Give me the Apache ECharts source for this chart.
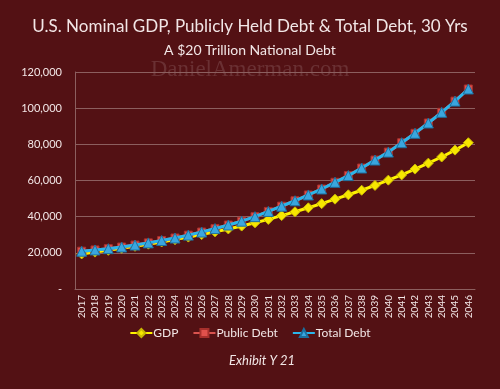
<!DOCTYPE html>
<html>
<head>
<meta charset="utf-8">
<script src="https://cdn.jsdelivr.net/npm/echarts@6/dist/echarts.min.js"></script>
<style>
html,body{margin:0;padding:0;background:#531114;}
#chart{width:500px;height:389px;}
</style>
</head>
<body>
<div id="chart"></div>
<script>
var years = ['2017','2018','2019','2020','2021','2022','2023','2024','2025','2026','2027','2028','2029','2030','2031','2032','2033','2034','2035','2036','2037','2038','2039','2040','2041','2042','2043','2044','2045','2046'];
var gdp = [19400,20400,21400,22500,23600,24800,26000,27300,28700,30100,31600,33200,34800,36600,38500,40600,42700,44900,47200,49700,52100,54600,57300,60200,63100,66300,69600,73000,76800,80900];
var publicDebt = [20900,21600,22300,23200,24300,25500,26800,28200,29800,31500,33400,35400,37500,40000,42900,45800,48800,52000,55300,59000,62700,66900,71300,75700,80900,86100,91800,97700,103900,110600];
var totalDebt = [20900,21600,22300,23200,24300,25500,26800,28200,29800,31500,33400,35400,37500,40000,42900,45800,48800,52000,55300,59000,62700,66900,71300,75700,80900,86100,91800,97700,103900,110600];
var yTicks = { min: 0, max: 120000, interval: 20000 };

var chart = echarts.init(document.getElementById('chart'));
var txt = '#f2e6e6';
var gridCol = '#8c5f5f';
chart.setOption({
  backgroundColor: '#531114',
  animation: false,
  textStyle: { fontFamily: 'Lato' },
  graphic: [
    { type: 'text', left: 'center', top: 18, style: { text: 'U.S. Nominal GDP, Publicly Held Debt & Total Debt, 30 Yrs', fill: txt, font: '17px Lato' } },
    { type: 'text', left: 'center', top: 43, style: { text: 'A $20 Trillion National Debt', fill: txt, font: '14px Lato' } },
    { type: 'text', left: 'center', top: 58, z: 0, style: { text: 'DanielAmerman.com', fill: '#6a3033', font: '23px "Liberation Serif"' } },
    { type: 'text', left: 229, top: 354, style: { text: 'Exhibit Y 21', fill: txt, font: 'italic 13px Lato' } }
  ],
  legend: {
    bottom: 45,
    left: 'center',
    itemWidth: 22,
    itemHeight: 10,
    itemGap: 14,
    textStyle: { color: txt, fontSize: 12, fontFamily: 'Lato', padding: [0,0,0,-4] },
    data: ['GDP', 'Public Debt', 'Total Debt']
  },
  grid: { left: 75, right: 25, top: 72, bottom: 100, containLabel: false },
  xAxis: {
    type: 'category',
    data: years,
    boundaryGap: true,
    axisLine: { show: true, lineStyle: { color: gridCol, width: 1 } },
    axisTick: { show: false },
    axisLabel: { rotate: 90, color: txt, fontSize: 10, interval: 0, margin: 6, fontFamily: 'Lato' },
    splitLine: { show: false }
  },
  yAxis: {
    type: 'value',
    min: yTicks.min,
    max: yTicks.max,
    interval: yTicks.interval,
    axisLine: { show: true, lineStyle: { color: gridCol, width: 1 } },
    axisTick: { show: false },
    axisLabel: {
      color: txt, fontSize: 11, margin: 13, fontFamily: 'Lato',
      formatter: function (v) { return v === 0 ? '-' : v.toLocaleString('en-US'); }
    },
    splitLine: { show: true, lineStyle: { color: gridCol, width: 1 } }
  },
  series: [
    {
      name: 'GDP', type: 'line', data: gdp,
      symbol: 'diamond', symbolSize: 10,
      lineStyle: { color: '#fff200', width: 3 },
      itemStyle: { color: '#f7e600', borderColor: '#c9b800', borderWidth: 1 },
      z: 2
    },
    {
      name: 'Public Debt', type: 'line', data: publicDebt,
      symbol: 'rect', symbolSize: 8,
      lineStyle: { color: '#d9534f', width: 3 },
      itemStyle: { color: '#e0514c', borderColor: '#a8302c', borderWidth: 1 },
      z: 3
    },
    {
      name: 'Total Debt', type: 'line', data: totalDebt,
      symbol: 'triangle', symbolSize: 10,
      lineStyle: { color: '#2bb5ea', width: 3 },
      itemStyle: { color: '#3aa6de', borderColor: '#1b6f9e', borderWidth: 1 },
      z: 4
    }
  ]
});
</script>
</body>
</html>
